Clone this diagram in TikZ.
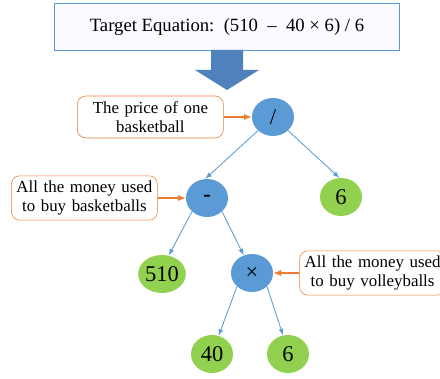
\documentclass[tikz,border=0pt]{standalone}
\usepackage{fontspec}
\setmainfont{Liberation Serif}
\usetikzlibrary{arrows,shapes,positioning,shadows,calc}
\usepackage{xcolor}
\definecolor{opblue}{RGB}{91,155,213}
\definecolor{numgreen}{RGB}{146,208,80}
\definecolor{noteorange}{RGB}{237,125,49}
\definecolor{bigblue}{RGB}{79,129,189}

\begin{document}
\begin{tikzpicture}[x=0.025cm, y=-0.025cm, node distance=0.7cm, >=latex,
    opnode/.style={ellipse, fill=opblue, minimum width=1.05cm, minimum height=0.95cm, inner sep=0pt, font=\fontsize{16}{18}\selectfont},
    numnode/.style={opnode, fill=numgreen},
    note/.style={draw=noteorange, fill=white, rounded corners=6pt, text width=3.55cm, inner xsep=0.05cm, minimum height=1.05cm, align=center, font=\fontsize{12}{14}\selectfont},
    treeline/.style={->, draw=opblue, line width=0.6pt},
    noteline/.style={->, draw=noteorange, line width=0.9pt}]
    \useasboundingbox (0,0) rectangle (440,379);

    \node [draw=opblue, fill=blue!2, minimum width=8.63cm, minimum height=1.18cm, font=\fontsize{13.3}{16}\selectfont] (target) at (227,27) {Target Equation:\ \ (510\ \ –\ \ 40 × 6) / 6};
    \fill [bigblue] (211,50) -- (243,50) -- (243,70) -- (259,70) -- (227,90) -- (195,70) -- (211,70) -- cycle;

    % expression tree
    \node [opnode] (div) at (273,117) {/};
    \node [opnode] (sub) at (207,198) {\textbf{-}};
    \node [numnode] (six) at (341,197) {6};
    \node [numnode] (n510) at (162,274) {510};
    \node [opnode] (mul) at (252,273) {×};
    \node [numnode] (n40) at (212,354) {40};
    \node [numnode] (n6) at (288,354) {6};

    \draw [treeline] (div.south west) -- (sub.95);
    \draw [treeline] (div.south east) -- (six.95);
    \draw [treeline] (sub.south west) -- (n510.70);
    \draw [treeline] (sub.south east) -- (mul.115);
    \draw [treeline] (mul.south west) -- (n40.70);
    \draw [treeline] (mul.south east) -- (n6.105);

    % notes
    \node [note, left=of div] (price) {The price of one\\basketball};
    \node [note, left=of sub] (basket) {All the money used\\to buy basketballs};
    \node [note, right=0.65cm of mul] (volley) {All the money used\\to buy volleyballs};

    \draw [noteline] (price) -- (div);
    \draw [noteline] (basket) -- (sub);
    \draw [noteline] (volley) -- (mul);
\end{tikzpicture}
\end{document}
